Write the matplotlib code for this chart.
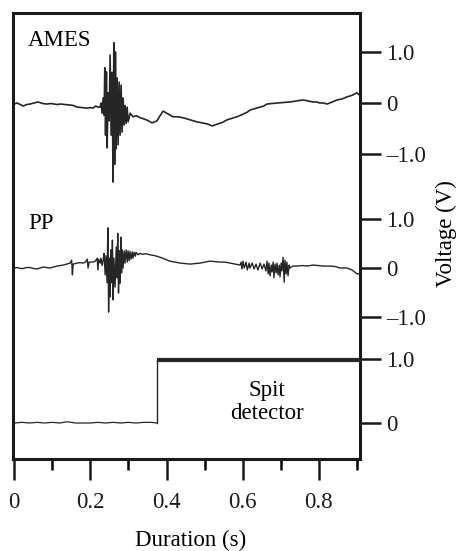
import numpy as np
import matplotlib
matplotlib.use("Agg")
import matplotlib.pyplot as plt

plt.rcParams['font.family'] = ['Liberation Serif', 'DejaVu Serif']

# AMES trace (time s, voltage V)
ames_t = [0.000, 0.008, 0.016, 0.024, 0.033, 0.042, 0.052, 0.063, 0.075, 0.087, 0.096,
          0.105, 0.113, 0.121, 0.134, 0.147, 0.156, 0.165, 0.178, 0.192, 0.200, 0.207,
          0.214, 0.220, 0.2257, 0.2283, 0.231, 0.2336, 0.2362, 0.238, 0.240, 0.2423,
          0.2441, 0.2467, 0.2493, 0.252, 0.2546, 0.2572, 0.2598, 0.2617, 0.2638, 0.2659,
          0.2677, 0.2703, 0.2730, 0.2756, 0.2782, 0.2808, 0.2835, 0.2861, 0.2887, 0.2913,
          0.294, 0.2966, 0.2992, 0.3045, 0.312, 0.321, 0.331, 0.340, 0.350, 0.362,
          0.375, 0.383, 0.391, 0.396, 0.405, 0.417, 0.430, 0.444, 0.462, 0.480, 0.494,
          0.507, 0.520, 0.535, 0.547, 0.559, 0.572, 0.585, 0.598, 0.612, 0.619, 0.632,
          0.646, 0.655, 0.664, 0.677, 0.690, 0.707, 0.724, 0.741, 0.759, 0.772, 0.785,
          0.794, 0.803, 0.812, 0.822, 0.835, 0.848, 0.861, 0.874, 0.887, 0.900, 0.906]
ames_v = [-0.02, 0.00, -0.03, -0.06, -0.03, -0.02, 0.00, 0.02, -0.01, -0.02, -0.01,
          -0.02, -0.03, -0.02, -0.03, -0.04, -0.05, -0.08, -0.09, -0.10, -0.09, -0.10,
          -0.06, -0.08, -0.08, 0.00, -0.20, 0.10, -0.24, 0.69, -0.63, 0.61,
          -0.88, 0.20, -0.35, 0.94, -0.63, 0.60, -1.55, 1.18, -1.20, 1.00,
          -0.90, 0.49, -0.82, 0.41, -0.63, 0.35, -0.57, 0.10, -0.43, -0.05,
          -0.40, -0.08, -0.37, -0.20, -0.27, -0.25, -0.29, -0.31, -0.34, -0.39,
          -0.35, -0.25, -0.16, -0.18, -0.22, -0.27, -0.27, -0.29, -0.33, -0.37, -0.39,
          -0.41, -0.45, -0.41, -0.38, -0.33, -0.30, -0.27, -0.23, -0.18, -0.14, -0.11,
          -0.08, -0.06, -0.02, -0.01, 0.00, 0.01, 0.02, 0.04, 0.06, 0.04, 0.02,
          0.02, 0.00, 0.00, -0.02, 0.02, 0.06, 0.08, 0.12, 0.15, 0.20, 0.16]

# PP trace (time s, voltage V)
pp_t = [0.000, 0.008, 0.016, 0.024, 0.033, 0.042, 0.051, 0.060, 0.068, 0.076, 0.085,
        0.094, 0.103, 0.113, 0.121, 0.129, 0.138, 0.147, 0.151, 0.153, 0.155, 0.165,
        0.173, 0.181, 0.187, 0.192, 0.194, 0.197, 0.207, 0.213, 0.218, 0.220, 0.222,
        0.226, 0.228, 0.231, 0.234, 0.236, 0.239, 0.241, 0.244, 0.246, 0.248, 0.250,
        0.252, 0.254, 0.256, 0.258, 0.260, 0.262, 0.265, 0.268, 0.270, 0.272, 0.274,
        0.276, 0.278, 0.280, 0.282, 0.284, 0.286, 0.289, 0.291, 0.294, 0.297, 0.299,
        0.302, 0.304, 0.307, 0.310, 0.312, 0.315, 0.318, 0.320, 0.325, 0.331, 0.336,
        0.346, 0.357, 0.370, 0.383, 0.396, 0.409, 0.423, 0.436, 0.449, 0.462, 0.475,
        0.488, 0.501, 0.514, 0.528, 0.541, 0.554, 0.567, 0.580, 0.593, 0.596, 0.598,
        0.601, 0.604, 0.609, 0.612, 0.617, 0.619, 0.625, 0.630, 0.635, 0.640, 0.646,
        0.651, 0.656, 0.661, 0.664, 0.667, 0.669, 0.672, 0.675, 0.677, 0.680, 0.682,
        0.685, 0.688, 0.690, 0.693, 0.696, 0.698, 0.701, 0.703, 0.706, 0.709, 0.711,
        0.714, 0.716, 0.719, 0.722, 0.724, 0.732, 0.743, 0.756, 0.769, 0.785, 0.798,
        0.811, 0.829, 0.843, 0.856, 0.874, 0.887, 0.900, 0.906]
pp_v = [0.00, 0.01, -0.01, -0.01, 0.01, 0.01, -0.01, -0.02, 0.00, 0.02, 0.01,
        0.00, 0.02, 0.04, 0.05, 0.06, 0.08, 0.10, 0.16, -0.14, 0.08, 0.10,
        0.11, 0.10, 0.12, 0.18, 0.00, 0.12, 0.12, 0.14, 0.20, -0.04, 0.18,
        0.10, 0.20, 0.05, 0.18, 0.30, -0.14, 0.25, -0.30, 0.82, -0.90, 0.20,
        -0.59, 0.37, -0.30, 0.57, -0.65, 0.20, -0.39, 0.43, -0.20, 0.71, -0.51,
        0.35, -0.31, 0.63, -0.10, 0.37, 0.00, 0.35, 0.10, 0.37, 0.12, 0.35,
        0.15, 0.34, 0.18, 0.33, 0.20, 0.32, 0.24, 0.32, 0.27, 0.30, 0.28,
        0.29, 0.27, 0.25, 0.22, 0.18, 0.14, 0.12, 0.10, 0.09, 0.08, 0.09,
        0.10, 0.12, 0.14, 0.13, 0.12, 0.12, 0.10, 0.08, 0.06, 0.12, -0.02,
        0.14, 0.00, 0.12, -0.04, 0.10, 0.00, 0.10, -0.02, 0.08, -0.04, 0.10,
        -0.02, 0.08, -0.06, 0.14, -0.12, 0.10, -0.16, 0.06, -0.08, 0.12, -0.20,
        0.08, -0.10, 0.10, -0.14, 0.06, -0.18, 0.10, -0.06, 0.22, -0.29, 0.16,
        -0.12, 0.12, -0.16, 0.06, 0.00, 0.04, 0.04, 0.05, 0.04, 0.06, 0.05,
        0.04, 0.04, 0.03, 0.00, 0.00, -0.04, -0.12, -0.12]

# spit detector (time s, voltage V)
spit_low_t = [0.000, 0.020, 0.040, 0.060, 0.080, 0.100, 0.120, 0.140, 0.160, 0.180,
              0.200, 0.220, 0.240, 0.260, 0.280, 0.300, 0.320, 0.340, 0.360, 0.3745]
spit_low_v = [0.00, 0.01, 0.00, 0.01, 0.00, 0.01, 0.00, 0.02, 0.00, 0.00,
              0.00, 0.01, 0.00, 0.01, 0.00, 0.01, 0.00, 0.01, 0.01, 0.00]
spit_high_t = [0.3745, 0.907]
spit_high_v = [0.98, 0.98]

volt_ticks = [-1.0, 0.0, 1.0]
volt_labels = ['\u20131.0', '0', '1.0']
spit_ticks = [0.0, 1.0]
spit_labels = ['0', '1.0']
x_major = [0, 0.2, 0.4, 0.6, 0.8]
x_minor = [0.1, 0.3, 0.5, 0.7, 0.9]

# stacking: offset and scale of each trace on the shared axis
ames_off, ames_sc = 356, 51
pp_off, pp_sc = 191, 49
spit_off, spit_sc = 36, 64

fig = plt.figure(figsize=(4.57, 5.51), dpi=100)
ax = fig.add_axes([13/457, 92/551, 347/457, 446/551])
ink = '#262626'

ax.plot(ames_t, ames_off + ames_sc*np.array(ames_v), color=ink, lw=1.2)
ax.plot(pp_t, pp_off + pp_sc*np.array(pp_v), color=ink, lw=1.0)
ax.plot(spit_low_t, spit_off + spit_sc*np.array(spit_low_v), color=ink, lw=0.9)
ax.plot([spit_low_t[-1], spit_high_t[0]],
        [spit_off + spit_sc*spit_low_v[-1], spit_off + spit_sc*spit_high_v[0]],
        color=ink, lw=1.0)
ax.plot(spit_high_t, spit_off + spit_sc*np.array(spit_high_v), color=ink, lw=3.0,
        solid_capstyle='butt')

ax.set_xlim(-0.003, 0.908)
ax.set_ylim(0, 446)

yt = ([ames_off + ames_sc*v for v in volt_ticks] +
      [pp_off + pp_sc*v for v in volt_ticks] +
      [spit_off + spit_sc*v for v in spit_ticks])
ax.set_yticks(yt)
ax.set_yticklabels(volt_labels + volt_labels + spit_labels)
ax.yaxis.tick_right()
ax.tick_params(axis='y', which='both', direction='out', length=15, width=1.8,
               pad=4, labelsize=16.5, colors='#1a1a1a')

ax.set_xticks(x_major)
ax.set_xticklabels(['0', '0.2', '0.4', '0.6', '0.8'])
ax.set_xticks(x_minor, minor=True)
ax.tick_params(axis='x', which='major', direction='out', length=15, width=1.8,
               pad=9, labelsize=16.5, colors='#1a1a1a')
ax.tick_params(axis='x', which='minor', direction='out', length=8, width=1.8)

for s in ax.spines.values():
    s.set_linewidth(2.2)
    s.set_color('#1a1a1a')

ax.text(0.043, 0.939, 'AMES', transform=ax.transAxes, fontsize=16.5,
        ha='left', va='center')
ax.text(0.043, 0.527, 'PP', transform=ax.transAxes, fontsize=16.5,
        ha='left', va='center')
ax.text(0.732, 0.128, 'Spit\ndetector', transform=ax.transAxes, fontsize=16.5,
        ha='center', va='center', linespacing=1.1)

fig.text(446/457, 1 - 234/551, 'Voltage (V)', rotation=90, fontsize=16.5,
         ha='center', va='center')
fig.text(191/457, 1 - 540/551, 'Duration (s)', fontsize=16.5,
         ha='center', va='center')

fig.savefig('out.png', dpi=100)
